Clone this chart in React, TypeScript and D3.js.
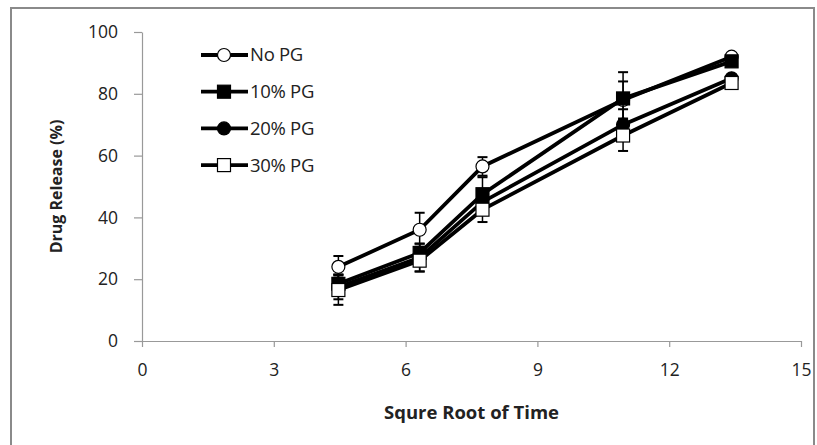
import React, { useEffect, useRef } from 'react';
import * as d3 from 'd3';

// sqrt of sampling time (h)
const timeRoot = [4.47, 6.32, 7.75, 10.95, 13.42];

const noPG = [24, 36, 56.5, 78, 92];
const pg10 = [18.5, 28.5, 47.5, 78.5, 90.5];
const pg20 = [17.5, 27, 45, 70, 85];
const pg30 = [16.5, 26, 42.5, 66.5, 83.5];

const noPGErr = [3.5, 5.5, 3, 6, 1];
const pg10Err = [3, 3, 5.5, 8.5, 1];
const pg20Err = [4, 4.5, 4, 5, 1];
const pg30Err = [4.8, 3.5, 4, 5, 1];

const seriesNames = ['No PG', '10% PG', '20% PG', '30% PG'];
const xTicks = [0, 3, 6, 9, 12, 15];
const yTicks = [0, 20, 40, 60, 80, 100];

const series = [
  { name: seriesNames[0], values: noPG, err: noPGErr, shape: 'circle', fill: '#fff' },
  { name: seriesNames[1], values: pg10, err: pg10Err, shape: 'square', fill: '#000' },
  { name: seriesNames[2], values: pg20, err: pg20Err, shape: 'circle', fill: '#000' },
  { name: seriesNames[3], values: pg30, err: pg30Err, shape: 'square', fill: '#fff' },
];

const App = () => {
  const svgRef = useRef(null);

  useEffect(() => {
    const width = 817;
    const height = 445;
    const margin = { top: 32, right: 16, bottom: 104, left: 142 };
    const font = '"Open Sans", "Liberation Sans", sans-serif';

    d3.select(svgRef.current).selectAll('*').remove();

    const svg = d3.select(svgRef.current)
      .attr('width', width)
      .attr('height', height);

    svg.append('rect')
      .attr('width', width).attr('height', height).attr('fill', '#fff');

    // outer frame
    svg.append('rect')
      .attr('x', 11).attr('y', 8)
      .attr('width', 803).attr('height', 460)
      .attr('fill', 'none')
      .attr('stroke', '#8a8a8a')
      .attr('stroke-width', 2);

    const x = d3.scaleLinear().domain([0, 15]).range([margin.left, 801]);
    const y = d3.scaleLinear().domain([0, 100]).range([341, margin.top]);

    // axes
    const xAxis = svg.append('g')
      .attr('transform', `translate(0,${y(0)})`)
      .call(d3.axisBottom(x).tickValues(xTicks).tickSize(6).tickSizeOuter(0).tickPadding(17));
    const yAxis = svg.append('g')
      .attr('transform', `translate(${x(0)},0)`)
      .call(d3.axisLeft(y).tickValues(yTicks).tickSize(8).tickSizeOuter(0).tickPadding(16));

    [xAxis, yAxis].forEach(g => {
      g.select('.domain').attr('stroke', '#999').attr('stroke-width', 1.2);
      g.selectAll('.tick line').attr('stroke', '#999').attr('stroke-width', 1.2);
      g.selectAll('.tick text')
        .attr('font-family', font)
        .attr('font-size', 17.5)
        .attr('fill', '#222');
    });

    // axis titles
    svg.append('text')
      .attr('x', (x(0) + x(15)) / 2)
      .attr('y', 419)
      .attr('text-anchor', 'middle')
      .attr('font-family', font)
      .attr('font-weight', 'bold')
      .attr('font-size', 18.5)
      .attr('fill', '#222')
      .text('Squre Root of Time');

    svg.append('text')
      .attr('transform', `translate(62,${(y(0) + y(100)) / 2}) rotate(-90)`)
      .attr('text-anchor', 'middle')
      .attr('font-family', font)
      .attr('font-weight', 'bold')
      .attr('font-size', 16)
      .attr('fill', '#222')
      .text('Drug Release (%)');

    const line = d3.line()
      .x(d => x(d[0]))
      .y(d => y(d[1]));

    const drawMarker = (g, s, cx, cy) => {
      if (s.shape === 'circle') {
        g.append('circle')
          .attr('cx', cx).attr('cy', cy).attr('r', 6.5)
          .attr('fill', s.fill).attr('stroke', '#000').attr('stroke-width', 1.2);
      } else {
        g.append('rect')
          .attr('x', cx - 6.5).attr('y', cy - 6.5)
          .attr('width', 13).attr('height', 13)
          .attr('fill', s.fill).attr('stroke', '#000').attr('stroke-width', 1.2);
      }
    };

    // series: error bars, line, markers
    series.forEach(s => {
      const g = svg.append('g');
      const pts = timeRoot.map((t, i) => [t, s.values[i]]);

      pts.forEach((p, i) => {
        const e = s.err[i];
        const cx = x(p[0]);
        g.append('line')
          .attr('x1', cx).attr('x2', cx)
          .attr('y1', y(p[1] - e)).attr('y2', y(p[1] + e))
          .attr('stroke', '#000').attr('stroke-width', 1.5);
        [p[1] - e, p[1] + e].forEach(v => {
          g.append('line')
            .attr('x1', cx - 5).attr('x2', cx + 5)
            .attr('y1', y(v)).attr('y2', y(v))
            .attr('stroke', '#000').attr('stroke-width', 2);
        });
      });

      g.append('path')
        .datum(pts)
        .attr('d', line)
        .attr('fill', 'none')
        .attr('stroke', '#000')
        .attr('stroke-width', 3.8);

      pts.forEach(p => drawMarker(g, s, x(p[0]), y(p[1])));
    });

    // legend
    const legend = svg.append('g');
    series.forEach((s, i) => {
      const ly = 55 + i * 36.7;
      legend.append('line')
        .attr('x1', 201).attr('x2', 248)
        .attr('y1', ly).attr('y2', ly)
        .attr('stroke', '#000').attr('stroke-width', 3.8);
      drawMarker(legend, s, 224, ly);
      legend.append('text')
        .attr('x', 250)
        .attr('y', ly)
        .attr('dy', '0.35em')
        .attr('font-family', font)
        .attr('font-size', 18.5)
        .attr('letter-spacing', -0.3)
        .attr('fill', '#222')
        .text(s.name);
    });
  }, []);

  return <svg ref={svgRef} style={{ position: 'absolute', left: 0, top: 0 }}></svg>;
};

export default App;
